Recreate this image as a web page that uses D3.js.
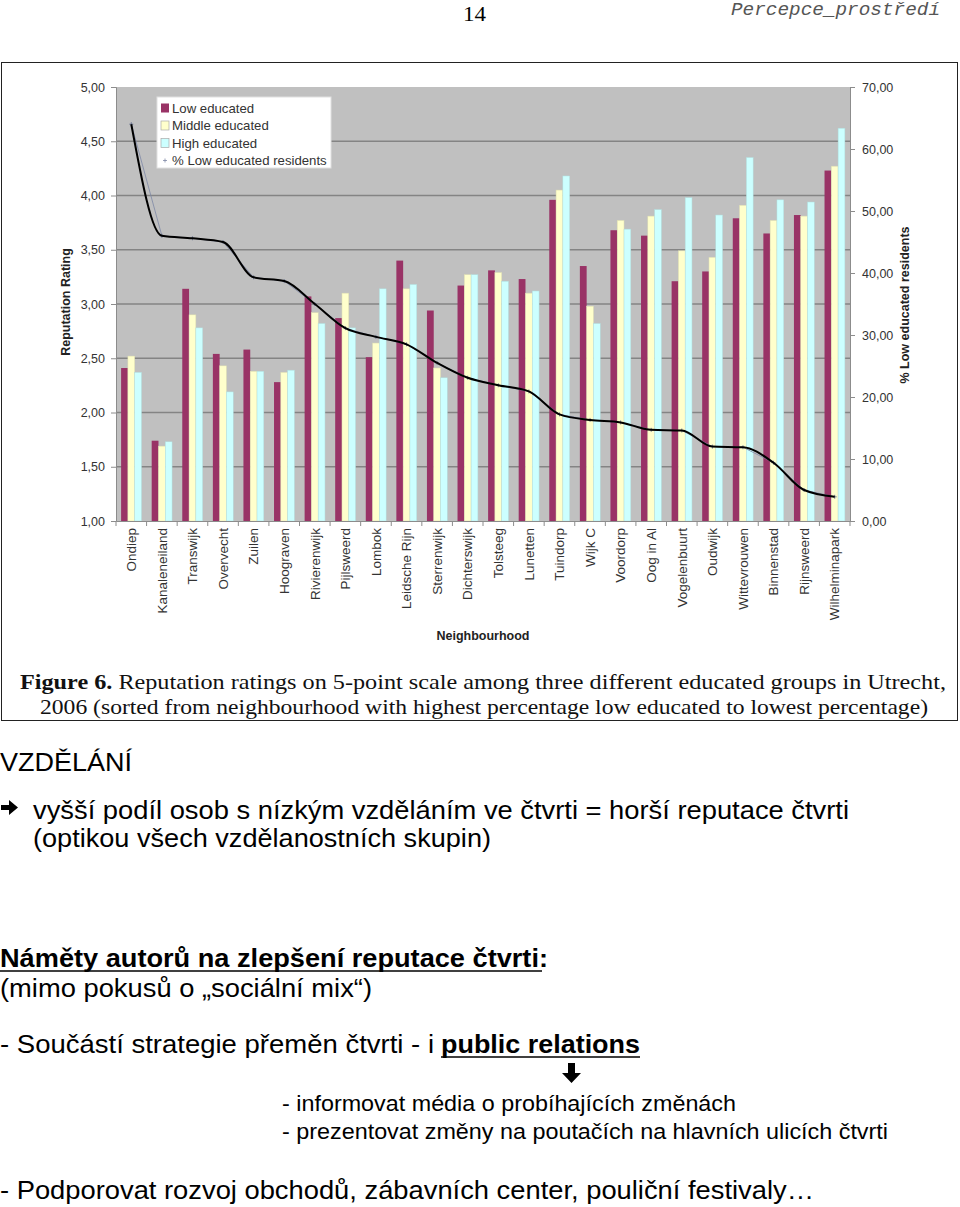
<!DOCTYPE html>
<html><head><meta charset="utf-8">
<script src="https://cdn.jsdelivr.net/npm/d3@7"></script>
<style>body{margin:0;background:#fff}svg{display:block}</style>
</head><body>
<svg id="c" width="960" height="1207"></svg>
<script>
const categories = ["Ondiep","Kanaleneiland","Transwijk","Overvecht","Zuilen","Hoograven","Rivierenwijk","Pijlsweerd","Lombok","Leidsche Rijn","Sterrenwijk","Dichterswijk","Tolsteeg","Lunetten","Tuindorp","Wijk C","Voordorp","Oog in Al","Vogelenbuurt","Oudwijk","Wittevrouwen","Binnenstad","Rijnsweerd","Wilhelminapark"];
const lowEducated = [2.41,1.74,3.14,2.54,2.58,2.28,3.07,2.87,2.51,3.40,2.94,3.17,3.31,3.23,3.96,3.35,3.68,3.63,3.21,3.30,3.79,3.65,3.82,4.23];
const middleEducated = [2.52,1.69,2.90,2.43,2.38,2.37,2.92,3.10,2.64,3.14,2.41,3.27,3.29,3.10,4.05,2.98,3.77,3.81,3.49,3.43,3.91,3.77,3.81,4.27];
const highEducated = [2.37,1.73,2.78,2.19,2.38,2.39,2.82,2.78,3.14,3.18,2.32,3.27,3.21,3.12,4.18,2.82,3.69,3.87,3.98,3.82,4.35,3.96,3.94,4.62];
const pctLowEducated = [64.0,46.0,45.6,45.0,39.3,38.7,35.0,31.1,29.7,28.5,25.5,23.1,21.9,20.9,17.2,16.3,15.9,14.7,14.6,12.0,11.9,9.4,5.0,3.9];
const seriesNames = ["Low educated","Middle educated","High educated"];
const seriesColors = ["#993366","#FFFFCC","#CCFFFF"];
const lineName = "% Low educated residents";
const leftTicks = [1,1.5,2,2.5,3,3.5,4,4.5,5];
const rightTicks = [0,10,20,30,40,50,60,70];
const fmt = d => d.toFixed(2).replace(".", ",");

const svg = d3.select("#c");
svg.append("rect").attr("width",960).attr("height",1207).attr("fill","#fff");

// Header
svg.append("text").attr("x",474.5).attr("y",21).attr("text-anchor","middle")
  .style("font-family","Liberation Serif").style("font-size","22px")
  .attr("textLength",23).attr("lengthAdjust","spacingAndGlyphs").text("14");
svg.append("text").attr("x",731).attr("y",15)
  .style("font-family","Liberation Mono").style("font-style","italic").style("font-size","18px").attr("fill","#555")
  .attr("textLength",209).attr("lengthAdjust","spacingAndGlyphs").text("Percepce_prostředí");

// Frame of figure
svg.append("rect").attr("x",1.5).attr("y",62.5).attr("width",956).attr("height",658)
  .attr("fill","none").attr("stroke","#222").attr("stroke-width",1);

const m = {l:116, r:850, t:87, b:521};
const x0 = d3.scaleBand().domain(categories).range([m.l, m.r]);
const x1 = d3.scaleBand().domain(seriesNames).range([x0.step()*0.167, x0.step()*0.833]);
const y = d3.scaleLinear().domain([1,5]).range([m.b, m.t]);
const y2 = d3.scaleLinear().domain([0,70]).range([m.b, m.t]);

const g = svg.append("g");
g.append("rect").attr("x",m.l).attr("y",m.t).attr("width",m.r-m.l).attr("height",m.b-m.t).attr("fill","#C0C0C0");

// gridlines
g.selectAll("line.grid").data(leftTicks.filter(d=>d>1 && d<5)).join("line")
  .attr("x1",m.l).attr("x2",m.r).attr("y1",d=>y(d)).attr("y2",d=>y(d))
  .attr("stroke","#848484").attr("stroke-width",1.3);

// bars
const allSeries = [lowEducated, middleEducated, highEducated];
seriesNames.forEach((name, si) => {
  g.append("g").selectAll("rect").data(allSeries[si]).join("rect")
    .attr("x",(d,i)=>x0(categories[i]) + x1(name))
    .attr("width", x1.bandwidth())
    .attr("y", d=>y(d))
    .attr("height", d=>y(1)-y(d))
    .attr("fill", seriesColors[si])
    .attr("stroke", si===0 ? "none" : d3.color(seriesColors[si]).darker(0.4))
    .attr("stroke-width", 0.5);
});

// axes
const axisFont = "Liberation Sans";
const ax = g.append("g").attr("transform",`translate(${m.l},0)`)
  .call(d3.axisLeft(y).tickValues(leftTicks).tickFormat(fmt).tickSize(5).tickPadding(6));
ax.select(".domain").attr("stroke","#8c8c8c");
ax.selectAll(".tick line").attr("stroke","#8c8c8c");
ax.selectAll("text").style("font-family",axisFont).style("font-size","12.5px").attr("fill","#333");

const ax2 = g.append("g").attr("transform",`translate(${m.r},0)`)
  .call(d3.axisRight(y2).tickValues(rightTicks).tickFormat(fmt).tickSize(5).tickPadding(7));
ax2.select(".domain").attr("stroke","#8c8c8c");
ax2.selectAll(".tick line").attr("stroke","#8c8c8c");
ax2.selectAll("text").style("font-family",axisFont).style("font-size","12.5px").attr("fill","#333");

const axb = g.append("g").attr("transform",`translate(0,${m.b})`)
  .call(d3.axisBottom(x0).tickSize(0).tickPadding(0));
axb.select(".domain").attr("stroke","#8c8c8c");
axb.selectAll("text").attr("transform","rotate(-90)").attr("text-anchor","end")
  .attr("x",-7).attr("y",0).attr("dy","0.35em")
  .style("font-family",axisFont).style("font-size","13.5px").attr("fill","#333");
g.selectAll("line.xt").data(categories.concat([null])).join("line")
  .attr("x1",d=>d===null?m.r:x0(d)).attr("x2",d=>d===null?m.r:x0(d))
  .attr("y1",m.b).attr("y2",m.b+5).attr("stroke","#8c8c8c");

// axis titles
g.append("text").attr("transform","translate(70,302) rotate(-90)").attr("text-anchor","middle")
  .style("font-family",axisFont).style("font-weight","bold").style("font-size","12.5px").attr("fill","#222")
  .text("Reputation Rating");
g.append("text").attr("transform","translate(909,305) rotate(-90)").attr("text-anchor","middle")
  .style("font-family",axisFont).style("font-weight","bold").style("font-size","12.5px").attr("fill","#222")
  .text("% Low educated residents");
g.append("text").attr("x",483).attr("y",640).attr("text-anchor","middle")
  .style("font-family",axisFont).style("font-weight","bold").style("font-size","12.5px").attr("fill","#222")
  .text("Neighbourhood");

// line series
const cx = i => x0(categories[i]) + x0.bandwidth()/2;
const thin = d3.line().x((d,i)=>cx(i)).y(d=>y2(d));
g.append("path").attr("d",thin(pctLowEducated)).attr("fill","none").attr("stroke","#7d88a6").attr("stroke-width",0.8);
g.append("g").selectAll("path").data(pctLowEducated).join("path")
  .attr("d",(d,i)=>`M${cx(i)-2},${y2(d)}h4M${cx(i)},${y2(d)-2}v4`)
  .attr("stroke","#5d6a8a").attr("stroke-width",0.8);
const smooth = d3.line().x((d,i)=>cx(i)).y(d=>y2(d)).curve(d3.curveMonotoneX);
g.append("path").attr("d",smooth(pctLowEducated)).attr("fill","none").attr("stroke","#000").attr("stroke-width",2);

// legend
const lg = g.append("g").attr("transform","translate(157,97)");
lg.append("rect").attr("width",174).attr("height",71).attr("fill","#fff").attr("stroke","#e0e0e0");
seriesNames.concat([lineName]).forEach((n,i)=>{
  const yy = 11 + i*17.5;
  if (i<3) {
    lg.append("rect").attr("x",4).attr("y",yy-4.5).attr("width",8).attr("height",9)
      .attr("fill",seriesColors[i]).attr("stroke", i===0?"none":"#aaa").attr("stroke-width",0.7);
  } else {
    lg.append("path").attr("d",`M6,${yy}h4M8,${yy-2}v4`).attr("stroke","#7d88a6").attr("stroke-width",0.8);
  }
  lg.append("text").attr("x",15).attr("y",yy).attr("dy","0.35em")
    .style("font-family",axisFont).style("font-size","13.2px").attr("fill","#333").text(n);
});

// caption
const cap = svg.append("g").style("font-family","Liberation Serif").style("font-size","21.5px").attr("fill","#111");
const c1 = cap.append("text").attr("x",20).attr("y",689).attr("textLength",926).attr("lengthAdjust","spacingAndGlyphs");
c1.append("tspan").style("font-weight","bold").text("Figure 6.");
c1.append("tspan").text(" Reputation ratings on 5-point scale among three different educated groups in Utrecht,");
cap.append("text").attr("x",40).attr("y",714).attr("textLength",888).attr("lengthAdjust","spacingAndGlyphs")
  .text("2006 (sorted from neighbourhood with highest percentage low educated to lowest percentage)");

// lower text
const tf = "Liberation Sans";
function line(txt, x, yb, w, size, bold) {
  return svg.append("text").attr("x",x).attr("y",yb).attr("textLength",w).attr("lengthAdjust","spacingAndGlyphs")
    .style("font-family",tf).style("font-size",size+"px").style("font-weight",bold?"bold":"normal").attr("fill","#000").text(txt);
}
line("VZDĚLÁNÍ", 0, 771, 132, 25);
svg.append("path").attr("d","M1,805 h8 v-5 l9,7.5 l-9,7.5 v-5 h-8 z").attr("fill","#000");
line("vyšší podíl osob s nízkým vzděláním ve čtvrti = horší reputace čtvrti", 33, 819, 816, 25);
line("(optikou všech vzdělanostních skupin)", 33, 847, 458, 25);
line("Náměty autorů na zlepšení reputace čtvrti:", 0, 967, 548, 25, true);
svg.append("line").attr("x1",0).attr("x2",542).attr("y1",971).attr("y2",971).attr("stroke","#000").attr("stroke-width",1.5);
line("(mimo pokusů o „sociální mix“)", 0, 997, 372, 25);
line("- Součástí strategie přeměn čtvrti - i", 0, 1053, 434, 25);
line("public relations", 441, 1053, 199, 25, true);
svg.append("line").attr("x1",441).attr("x2",640).attr("y1",1057).attr("y2",1057).attr("stroke","#000").attr("stroke-width",1.5);
svg.append("path").attr("d","M568,1063 h7 v10 h6 l-9.5,10 l-9.5,-10 h6 z").attr("fill","#000");
line("- informovat média o probíhajících změnách", 282, 1111, 454, 22);
line("- prezentovat změny na poutačích na hlavních ulicích čtvrti", 282, 1139, 606, 22);
line("- Podporovat rozvoj obchodů, zábavních center, pouliční festivaly…", 0, 1199, 814, 25);
</script>
</body></html>
